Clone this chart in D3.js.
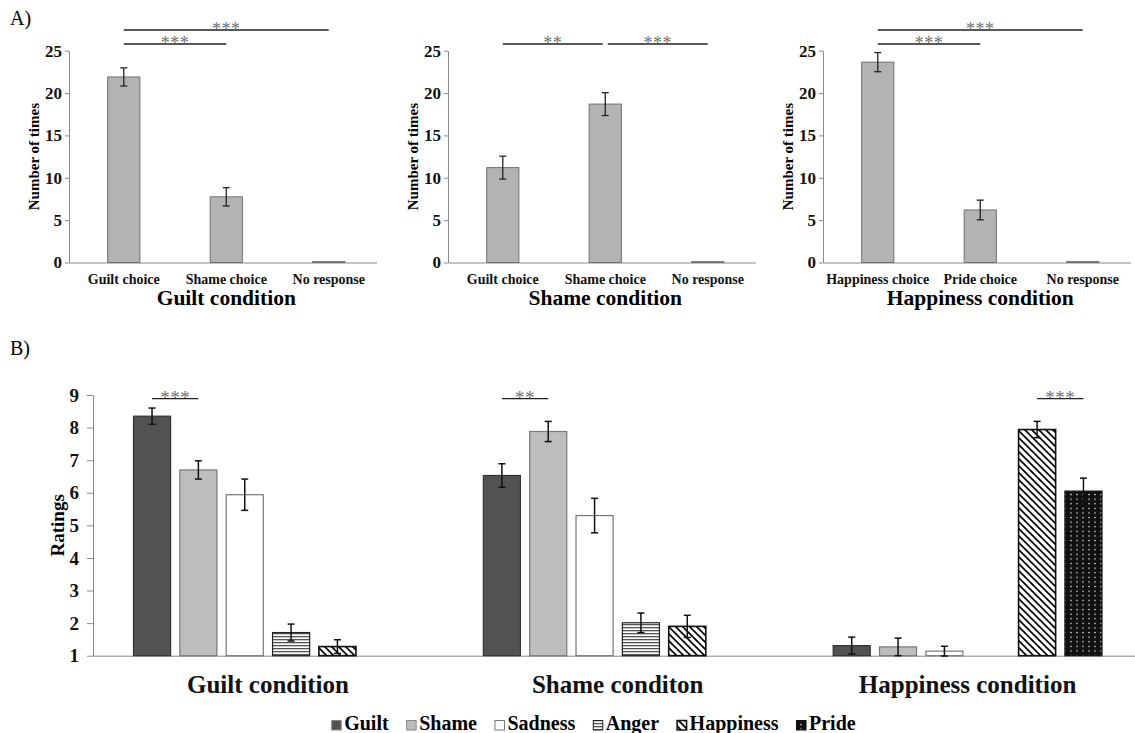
<!DOCTYPE html>
<html>
<head>
<meta charset="utf-8">
<script src="https://cdn.jsdelivr.net/npm/d3@7"></script>
<style>
  body { margin: 0; background: #fff; }
  svg { display: block; font-family: 'Liberation Serif', 'Times New Roman', serif; }
  .axis path, .axis line { stroke: #8a8a8a; }
  .axis text { font-weight: bold; fill: #111; }
</style>
</head>
<body>
<svg id="chart" width="1135" height="733"></svg>
<script>
// A) how often each label was chosen, per condition
let choiceConditions = ['Guilt condition', 'Shame condition', 'Happiness condition']
let choiceLabels = [
  ['Guilt choice', 'Shame choice', 'No response'],
  ['Guilt choice', 'Shame choice', 'No response'],
  ['Happiness choice', 'Pride choice', 'No response']
]
let choiceMeans = [
  [21.9, 7.75, 0.1],
  [11.2, 18.7, 0.1],
  [23.65, 6.2, 0.1]
]
let choiceErrors = [
  [1.07, 1.08, 0],
  [1.35, 1.35, 0],
  [1.13, 1.16, 0]
]
let choiceTicks = [0, 5, 10, 15, 20, 25]
// [from, to, level, stars]
let choiceSig = [
  [[0, 1, 1, '***'], [0, 2, 2, '***']],
  [[0, 1, 1, '**'], [1, 2, 1, '***']],
  [[0, 1, 1, '***'], [0, 2, 2, '***']]
]

// B) emotion ratings per condition
let ratingConditions = ['Guilt condition', 'Shame conditon', 'Happiness condition']
let emotions = ['Guilt', 'Shame', 'Sadness', 'Anger', 'Happiness', 'Pride']
let ratingMeans = [
  [8.35, 6.70, 5.94, 1.71, 1.28, null],
  [6.53, 7.88, 5.30, 2.01, 1.90, null],
  [1.31, 1.27, 1.14, null, 7.94, 6.05]
]
let ratingErrors = [
  [0.25, 0.28, 0.48, 0.26, 0.21, null],
  [0.36, 0.31, 0.53, 0.30, 0.34, null],
  [0.26, 0.27, 0.15, null, 0.25, 0.40]
]
let ratingTicks = [1, 2, 3, 4, 5, 6, 7, 8, 9]
let ratingSig = [
  ['Guilt', 'Shame', '***'],
  ['Guilt', 'Shame', '**'],
  ['Happiness', 'Pride', '***']
]

let svg = d3.select('#chart')

// patterns for the hatched bars
let defs = svg.append('defs')
let pH = defs.append('pattern').attr('id', 'hatchH')
  .attr('patternUnits', 'userSpaceOnUse').attr('width', 4).attr('height', 3)
pH.append('rect').attr('width', 4).attr('height', 3).attr('fill', '#fff')
pH.append('rect').attr('width', 4).attr('height', 1.3).attr('fill', '#555')

let pD = defs.append('pattern').attr('id', 'hatchD')
  .attr('patternUnits', 'userSpaceOnUse').attr('width', 7).attr('height', 7)
pD.append('rect').attr('width', 7).attr('height', 7).attr('fill', '#fff')
pD.append('path').attr('d', 'M-2,-2L9,9M-2,5L2,9M5,-2L9,2')
  .attr('stroke', '#000').attr('stroke-width', 1.7)

let pP = defs.append('pattern').attr('id', 'dots')
  .attr('patternUnits', 'userSpaceOnUse').attr('width', 6).attr('height', 4.6)
pP.append('rect').attr('width', 6).attr('height', 4.6).attr('fill', '#111')
pP.append('circle').attr('cx', 3).attr('cy', 2.3).attr('r', 0.8).attr('fill', '#ddd')

let emoFill = {
  Guilt: '#525252', Shame: '#bdbdbd', Sadness: '#fff',
  Anger: 'url(#hatchH)', Happiness: 'url(#hatchD)', Pride: 'url(#dots)'
}
let emoStroke = {
  Guilt: '#333', Shame: '#777', Sadness: '#777',
  Anger: '#222', Happiness: '#111', Pride: '#111'
}

function fixFont (g, size) {
  g.attr('font-family', null).attr('font-size', size).attr('font-weight', 'bold')
}

// ---------- panel A ----------
svg.append('text').attr('x', 10).attr('y', 25).attr('font-size', 20).text('A)')

let yA = d3.scaleLinear().domain([0, 25]).range([262.5, 50.7])
let panelLeft = [69, 448, 823]

choiceConditions.forEach(function (cond, i) {
  let g = svg.append('g').attr('transform', 'translate(' + panelLeft[i] + ',0)')
  let x = d3.scaleBand().domain(choiceLabels[i]).range([0, 307.5])
    .paddingInner(0.686).paddingOuter(0.343).align(0.55)
  let cx = function (k) { return x(choiceLabels[i][k]) + x.bandwidth() / 2 }

  g.append('g').attr('class', 'axis')
    .attr('transform', 'translate(0,' + yA(0) + ')')
    .call(d3.axisBottom(x).tickSize(0).tickSizeOuter(0).tickPadding(12))
    .call(fixFont, 14)

  g.append('g').attr('class', 'axis')
    .call(d3.axisLeft(yA).tickValues(choiceTicks).tickSize(4).tickSizeOuter(0).tickPadding(3))
    .call(fixFont, 17)

  g.append('text')
    .attr('transform', 'translate(-30,' + (yA(0) + yA(25)) / 2 + ') rotate(-90)')
    .attr('text-anchor', 'middle').attr('font-size', 15).attr('font-weight', 'bold')
    .text('Number of times')

  g.append('text')
    .attr('x', cx(1)).attr('y', 305)
    .attr('text-anchor', 'middle').attr('font-size', 21.5).attr('font-weight', 'bold')
    .text(cond)

  let rows = choiceLabels[i].map(function (l, k) {
    return { label: l, v: choiceMeans[i][k], e: choiceErrors[i][k] }
  })
  g.selectAll('.bar').data(rows).enter().append('rect')
    .attr('x', function (d) { return x(d.label) })
    .attr('width', x.bandwidth())
    .attr('y', function (d) { return yA(d.v) })
    .attr('height', function (d) { return yA(0) - yA(d.v) })
    .attr('fill', '#b3b3b3').attr('stroke', '#707070').attr('stroke-width', 1)

  let eb = g.selectAll('.err').data(rows.filter(function (d) { return d.e > 0 })).enter()
    .append('g').attr('stroke', '#222').attr('stroke-width', 1.3)
  eb.append('line')
    .attr('x1', function (d) { return x(d.label) + x.bandwidth() / 2 })
    .attr('x2', function (d) { return x(d.label) + x.bandwidth() / 2 })
    .attr('y1', function (d) { return yA(d.v + d.e) })
    .attr('y2', function (d) { return yA(d.v - d.e) })
  ;[1, -1].forEach(function (s) {
    eb.append('line')
      .attr('x1', function (d) { return x(d.label) + x.bandwidth() / 2 - 3.5 })
      .attr('x2', function (d) { return x(d.label) + x.bandwidth() / 2 + 3.5 })
      .attr('y1', function (d) { return yA(d.v + s * d.e) })
      .attr('y2', function (d) { return yA(d.v + s * d.e) })
  })

  let sigs = choiceSig[i]
  sigs.forEach(function (s) {
    let shared = function (k) {
      return sigs.some(function (o) { return o !== s && o[2] === s[2] && (o[0] === k || o[1] === k) })
    }
    let x1 = cx(s[0]) + (shared(s[0]) ? 2.5 : 0)
    let x2 = cx(s[1]) - (shared(s[1]) ? 2.5 : 0)
    let ly = s[2] === 1 ? 44 : 30
    g.append('line').attr('x1', x1).attr('x2', x2).attr('y1', ly).attr('y2', ly)
      .attr('stroke', '#222').attr('stroke-width', 1.3)
    g.append('text').attr('x', (x1 + x2) / 2).attr('y', ly + 4.5)
      .attr('text-anchor', 'middle').attr('font-size', 18).attr('letter-spacing', 0.5)
      .attr('fill', '#707070')
      .text(s[3])
  })
})

// ---------- panel B ----------
svg.append('text').attr('x', 10).attr('y', 355).attr('font-size', 20).text('B)')

let yB = d3.scaleLinear().domain([1, 9]).range([655.7, 395])
let x0 = d3.scaleBand().domain(ratingConditions).range([93, 1142.5])
let x1 = d3.scaleBand().domain(emotions).range([0, x0.bandwidth()])
  .paddingInner(0.2).paddingOuter(0.874)
let bcx = function (c, e) { return x0(c) + x1(e) + x1.bandwidth() / 2 }

svg.append('g').attr('class', 'axis')
  .attr('transform', 'translate(0,' + yB(1) + ')')
  .call(d3.axisBottom(x0).tickSize(0).tickSizeOuter(0).tickPadding(20))
  .call(fixFont, 25)

svg.append('g').attr('class', 'axis')
  .attr('transform', 'translate(93,0)')
  .call(d3.axisLeft(yB).tickValues(ratingTicks).tickSize(6).tickSizeOuter(0).tickPadding(8))
  .call(fixFont, 19)

svg.append('text')
  .attr('transform', 'translate(64,' + (yB(1) + yB(9)) / 2 + ') rotate(-90)')
  .attr('text-anchor', 'middle').attr('font-size', 19).attr('font-weight', 'bold')
  .text('Ratings')

let bars = []
ratingConditions.forEach(function (c, i) {
  emotions.forEach(function (e, j) {
    if (ratingMeans[i][j] !== null) bars.push({ c: c, e: e, v: ratingMeans[i][j], err: ratingErrors[i][j] })
  })
})

svg.append('g').selectAll('rect').data(bars).enter().append('rect')
  .attr('x', function (d) { return x0(d.c) + x1(d.e) })
  .attr('width', x1.bandwidth())
  .attr('y', function (d) { return yB(d.v) })
  .attr('height', function (d) { return yB(1) - yB(d.v) })
  .attr('fill', function (d) { return emoFill[d.e] })
  .attr('stroke', function (d) { return emoStroke[d.e] })
  .attr('stroke-width', function (d) { return d.e === 'Happiness' ? 1.6 : 1.2 })

let ebB = svg.append('g').attr('stroke', '#111').attr('stroke-width', 1.5)
  .selectAll('g').data(bars).enter().append('g')
ebB.append('line')
  .attr('x1', function (d) { return bcx(d.c, d.e) })
  .attr('x2', function (d) { return bcx(d.c, d.e) })
  .attr('y1', function (d) { return yB(d.v + d.err) })
  .attr('y2', function (d) { return yB(d.v - d.err) })
;[1, -1].forEach(function (s) {
  ebB.append('line')
    .attr('x1', function (d) { return bcx(d.c, d.e) - 3.5 })
    .attr('x2', function (d) { return bcx(d.c, d.e) + 3.5 })
    .attr('y1', function (d) { return yB(d.v + s * d.err) })
    .attr('y2', function (d) { return yB(d.v + s * d.err) })
})

ratingSig.forEach(function (s, i) {
  let c = ratingConditions[i]
  let xa = bcx(c, s[0])
  let xb = bcx(c, s[1])
  svg.append('line').attr('x1', xa).attr('x2', xb).attr('y1', 398.7).attr('y2', 398.7)
    .attr('stroke', '#222').attr('stroke-width', 1.3)
  svg.append('text').attr('x', (xa + xb) / 2).attr('y', 403.5)
    .attr('text-anchor', 'middle').attr('font-size', 19).attr('letter-spacing', 0.5)
    .attr('fill', '#707070')
    .text(s[2])
})

// legend
let lx = 331.7
emotions.forEach(function (e) {
  svg.append('rect').attr('x', lx).attr('y', 720.5).attr('width', 9.5).attr('height', 9.5)
    .attr('fill', emoFill[e]).attr('stroke', e === 'Guilt' || e === 'Shame' ? '#888' : emoStroke[e])
    .attr('stroke-width', e === 'Happiness' ? 1.5 : 1)
  let t = svg.append('text').attr('x', lx + 12.5).attr('y', 730)
    .attr('font-size', 20).attr('font-weight', 'bold').text(e)
  lx += 12.5 + t.node().getComputedTextLength() + 18
})
</script>
</body>
</html>
